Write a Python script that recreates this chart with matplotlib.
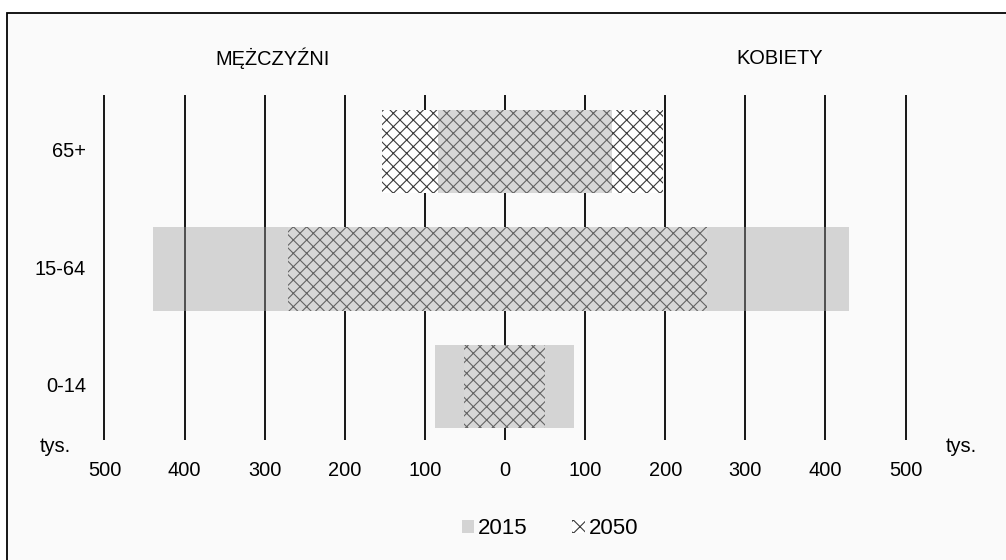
import numpy as np
import matplotlib

matplotlib.use("Agg")
import matplotlib.pyplot as plt
from matplotlib.patches import Rectangle

# population by age group, thousands (men drawn to the left)
age_groups = ["0-14", "15-64", "65+"]
men_2015 = [87, 439, 84]
women_2015 = [86, 429, 134]
men_2050 = [51, 271, 154]
women_2050 = [50, 252, 197]
tick_values = [-500, -400, -300, -200, -100, 0, 100, 200, 300, 400, 500]

plt.rcParams["font.family"] = ["Liberation Sans", "DejaVu Sans"]
plt.rcParams["font.size"] = 18
plt.rcParams["hatch.linewidth"] = 1.0
plt.rcParams["hatch.color"] = "#3a3a3a"

W, H, DPI = 1006, 560, 80
fig = plt.figure(figsize=(W / DPI, H / DPI), dpi=DPI, facecolor="white")

# frame around the chart area
fig.add_artist(
    Rectangle(
        (7 / W, -0.1), 1.2, (H - 13) / H + 0.1,
        transform=fig.transFigure, facecolor="#fafafa",
        edgecolor="black", linewidth=1.6, zorder=-5,
    )
)

# axes placed so that the 100-step grid is 80 px apart, centred on x=505
px_per_unit = 0.801
xlim = (-520, 520)
left_px = 505 + xlim[0] * px_per_unit
right_px = 505 + xlim[1] * px_per_unit
top_px, bottom_px = 95, 440
ax = fig.add_axes(
    [left_px / W, 1 - bottom_px / H, (right_px - left_px) / W, (bottom_px - top_px) / H]
)
ax.set_facecolor("none")

y = np.arange(len(age_groups))
h = 0.71

# 2050: white fill with cross hatch, covers the grid
ax.barh(y, -np.array(men_2050), height=h, color="white", edgecolor="#3a3a3a",
        linewidth=0, hatch="xx", zorder=2, label="2050")
ax.barh(y, women_2050, height=h, color="white", edgecolor="#3a3a3a",
        linewidth=0, hatch="xx", zorder=2)

# 2015: translucent grey on top
ax.barh(y, -np.array(men_2015), height=h, color="#a0a0a0", alpha=0.42,
        linewidth=0, zorder=3, label="2015")
ax.barh(y, women_2015, height=h, color="#a0a0a0", alpha=0.42,
        linewidth=0, zorder=3)

ax.set_xlim(*xlim)
ax.set_ylim(-0.455, 2.481)
ax.set_xticks(tick_values)
ax.set_xticklabels([str(abs(v)) for v in tick_values])
ax.set_yticks([])
ax.tick_params(axis="x", length=0, pad=19)
ax.grid(axis="x", color="black", linewidth=1.6, zorder=1)
ax.set_axisbelow(True)
for s in ax.spines.values():
    s.set_visible(False)

# age group labels, right aligned left of the grid
for yi, lab in zip(y, age_groups):
    ax.annotate(lab, xy=(0, yi), xycoords=("figure fraction", "data"),
                xytext=(86, 0), textcoords="offset pixels",
                ha="right", va="center")

fig.text(273 / W, 1 - 58 / H, "MĘŻCZYŹNI", ha="center", va="center")
fig.text(780 / W, 1 - 58 / H, "KOBIETY", ha="center", va="center")
fig.text(55 / W, 1 - 447 / H, "tys.", ha="center", va="center")
fig.text(961 / W, 1 - 447 / H, "tys.", ha="center", va="center")

handles, labels = ax.get_legend_handles_labels()
fig.legend(handles[::-1], labels[::-1], loc="center",
           bbox_to_anchor=(550 / W, 1 - 529 / H), ncol=2, frameon=False,
           fontsize=20, handlelength=0.55, handleheight=0.55,
           handletextpad=0.2, columnspacing=2.0)

plt.savefig("out.png", dpi=DPI)
